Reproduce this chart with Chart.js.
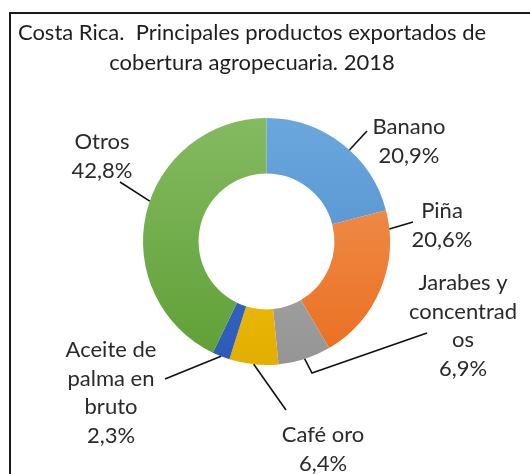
<!DOCTYPE html>
<html>
<head>
<meta charset="utf-8">
<script src="https://cdn.jsdelivr.net/npm/chart.js@4/dist/chart.umd.min.js"></script>
<style>
  html, body { margin: 0; padding: 0; background: #fff; }
  #wrap { position: relative; width: 530px; height: 474px; }
</style>
</head>
<body>
<div id="wrap"><canvas id="chart" width="530" height="474"></canvas></div>
<script>
// data
const categories = ['Banano', 'Piña', ['Jarabes y', 'concentrad', 'os'], 'Café oro', ['Aceite de', 'palma en', 'bruto'], 'Otros'];
const shares = [20.9, 20.6, 6.9, 6.4, 2.3, 42.8];
const titleLines = ['Costa Rica.  Principales productos exportados de', 'cobertura agropecuaria. 2018'];

// colours: light at top, dark at bottom (Excel-like gradient)
const topColors = ['#6aa7de', '#f1985c', '#b3b3b3', '#ffc81c', '#4071cc', '#84ba61'];
const bottomColors = ['#4a88c8', '#ea6e1e', '#959595', '#e2af00', '#2c5bb8', '#5f9f35'];

// label layout: text centre x, first line y, end of leader line, optional elbow, where on slice the line starts
const labelLayout = [
  { x: 409, y: 127, end: [367, 131], frac: 0.56 },
  { x: 442, y: 211, end: [413, 222], frac: 0.12 },
  { x: 463, y: 283, end: [427, 333], elbow: [312, 373], frac: 0.5 },
  { x: 323, y: 435, end: [286, 410], frac: 0.5 },
  { x: 111, y: 350, end: [165, 379], frac: 0.5 },
  { x: 102, y: 142, end: [120, 182], frac: 0.54 }
];
const FONT = '22px Lato, "Open Sans", sans-serif';
const LINE_H = 28.7;

function fmt(v) {
  return v.toFixed(1).replace('.', ',') + '%';
}

function sliceGradient(context) {
  const chart = context.chart;
  const area = chart.chartArea;
  if (!area) return topColors[context.dataIndex];
  const g = chart.ctx.createLinearGradient(0, area.top, 0, area.bottom);
  g.addColorStop(0, topColors[context.dataIndex]);
  g.addColorStop(1, bottomColors[context.dataIndex]);
  return g;
}

const decorPlugin = {
  id: 'decor',
  beforeDraw(chart) {
    const ctx = chart.ctx;
    ctx.save();
    ctx.fillStyle = '#fff';
    ctx.fillRect(0, 0, chart.width, chart.height);
    ctx.strokeStyle = '#1a1a1a';
    ctx.lineWidth = 2;
    ctx.beginPath();
    ctx.moveTo(10, chart.height);
    ctx.lineTo(10, 13);
    ctx.lineTo(chart.width, 13);
    ctx.stroke();

    ctx.fillStyle = '#1e1e1e';
    ctx.font = FONT;
    ctx.textAlign = 'center';
    ctx.textBaseline = 'middle';
    titleLines.forEach((t, i) => ctx.fillText(t, 252, 33 + i * 30));
    ctx.restore();
  },
  afterDraw(chart) {
    const ctx = chart.ctx;
    const arcs = chart.getDatasetMeta(0).data;
    ctx.save();
    ctx.strokeStyle = '#111';
    ctx.lineWidth = 1.6;
    ctx.fillStyle = '#2a2a2a';
    ctx.font = FONT;
    ctx.textAlign = 'center';
    ctx.textBaseline = 'middle';
    arcs.forEach((arc, i) => {
      const lay = labelLayout[i];
      const p = arc.getProps(['x', 'y', 'startAngle', 'endAngle', 'outerRadius']);
      const a = p.startAngle + (p.endAngle - p.startAngle) * lay.frac;
      const ax = p.x + Math.cos(a) * p.outerRadius;
      const ay = p.y + Math.sin(a) * p.outerRadius;
      ctx.beginPath();
      ctx.moveTo(ax, ay);
      if (lay.elbow) ctx.lineTo(lay.elbow[0], lay.elbow[1]);
      ctx.lineTo(lay.end[0], lay.end[1]);
      ctx.stroke();

      const name = chart.data.labels[i];
      const lines = (Array.isArray(name) ? name : [name]).concat([fmt(shares[i])]);
      lines.forEach((t, k) => ctx.fillText(t, lay.x, lay.y + k * LINE_H));
    });
    ctx.restore();
  }
};

new Chart(document.getElementById('chart'), {
  type: 'doughnut',
  data: {
    labels: categories,
    datasets: [{
      data: shares,
      backgroundColor: sliceGradient,
      borderWidth: 0
    }]
  },
  options: {
    responsive: false,
    animation: false,
    cutout: '55%',
    layout: { padding: { left: 143, right: 140, top: 118, bottom: 109 } },
    plugins: {
      legend: { display: false },
      tooltip: { enabled: false },
      title: { display: false }
    }
  },
  plugins: [decorPlugin]
});
</script>
</body>
</html>
